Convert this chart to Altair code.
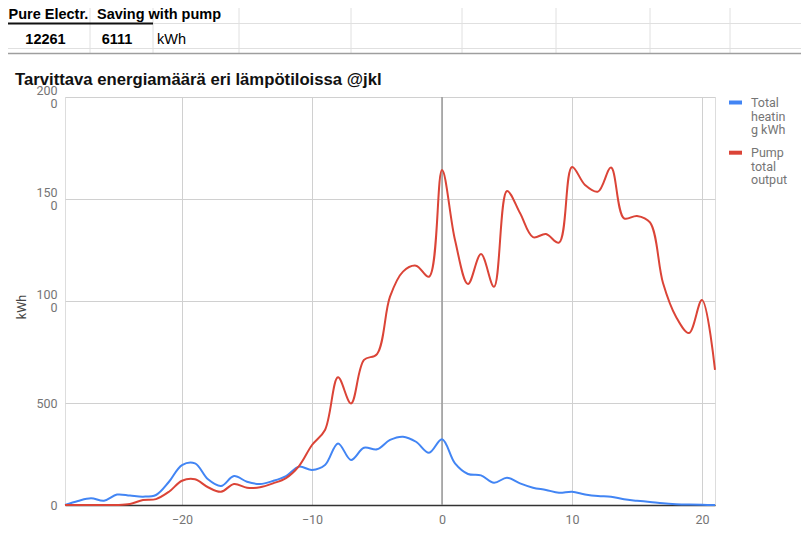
import altair as alt
import pandas as pd

# ---------------- data ----------------
temps = list(range(-29, 22))
series_names = ["Total heating kWh", "Pump total output"]
series_colors = ["#4285F4", "#DB4437"]

heating = [0, 20, 33, 21, 51, 46, 41, 49, 114, 196,
           204, 126, 93, 142, 114, 103, 118, 142, 188, 172,
           196, 302, 221, 281, 273, 319, 335, 310, 256, 322,
           204, 152, 145, 109, 134, 106, 85, 74, 60, 65,
           52, 44, 41, 28, 21, 15, 8, 4, 2, 1, 0]

pump = [0, 0, 0, 0, 0, 5, 24, 29, 65, 119,
        126, 87, 65, 103, 85, 87, 106, 132, 191, 294,
        368, 626, 498, 711, 740, 1021, 1144, 1173, 1119, 1642,
        1299, 1083, 1230, 1070, 1539, 1431, 1313, 1328, 1286, 1657,
        1569, 1536, 1654, 1405, 1417, 1385, 1088, 923, 843, 1005, 662]

x_ticks = [-20, -10, 0, 10, 20]
y_ticks = [0, 500, 1000, 1500, 2000]

table_headers = ["Pure Electr.", "Saving with pump"]
table_values = ["12261", "6111", "kWh"]
chart_title = "Tarvittava energiamäärä eri lämpötiloissa @jkl"
y_title = "kWh"
legend_lines = [["Total", "heatin", "g kWh"], ["Pump", "total", "output"]]

df = pd.DataFrame({
    "T": temps + temps,
    "kWh": heating + pump,
    "series": [series_names[0]] * len(temps) + [series_names[1]] * len(temps),
})
zero_df = pd.DataFrame({"T": [0]})

# ---------------- scales ----------------
x_scale = alt.Scale(domain=[-29, 21], nice=False, zero=False)
y_scale = alt.Scale(domain=[0, 2000], nice=False)

W, H = 650, 408
GRAY = "#757575"

lines = alt.Chart(df).mark_line(interpolate="catmull-rom", strokeWidth=2).encode(
    x=alt.X("T:Q", scale=x_scale,
            axis=alt.Axis(values=x_ticks, grid=True, gridColor="#d0d0d0", ticks=False,
                          domain=True, domainColor="#333333", domainWidth=1.5,
                          labelColor=GRAY, labelFont="Roboto", labelFontSize=12.5,
                          labelPadding=8, title=None)),
    y=alt.Y("kWh:Q", scale=y_scale,
            axis=alt.Axis(values=y_ticks, format="d",
                          labelExpr="datum.value >= 1000 ? [substring(datum.label, 0, 3), substring(datum.label, 3)] : datum.label",
                          labelLineHeight=13,
                          labelOffset={"condition": {"test": "datum.value >= 1000", "value": -7}, "value": 0},
                          grid=True, gridColor="#d0d0d0", ticks=False, domain=False,
                          labelColor=GRAY, labelFont="Roboto", labelFontSize=12.5,
                          labelPadding=8, title=None)),
    color=alt.Color("series:N", scale=alt.Scale(domain=series_names, range=series_colors),
                    legend=None),
    order=alt.Order("T:Q"),
)

zero_rule = alt.Chart(zero_df).mark_rule(color="#9a9a9a", strokeWidth=1.5).encode(
    x=alt.X("T:Q", scale=x_scale)
)

layers = [zero_rule, lines]

def px(v):
    return alt.value(v - 65)

def py(v):
    return alt.value(v - 97)

# spreadsheet grid behind the chart
grid_color = "#e0e0e0"
for gx in [90, 153, 239, 351, 462, 556, 650, 730, 804]:
    layers.append(alt.Chart(zero_df).mark_rule(color=grid_color, strokeWidth=1).encode(
        x=px(gx), y=py(0), y2=py(53)))
layers.append(alt.Chart(zero_df).mark_rule(color=grid_color, strokeWidth=1).encode(
    x=px(153), x2=px(810), y=py(23.5)))
layers.append(alt.Chart(zero_df).mark_rule(color=grid_color, strokeWidth=1).encode(
    x=px(0), x2=px(810), y=py(48.5)))
layers.append(alt.Chart(zero_df).mark_rule(color="#111111", strokeWidth=2).encode(
    x=px(0), x2=px(153), y=py(23.5)))
# chart box top border
layers.append(alt.Chart(zero_df).mark_rule(color="#9e9e9e", strokeWidth=1.5).encode(
    x=px(0), x2=px(810), y=py(53.5)))

# table texts
def txt(text, x, y, align="left", weight="bold", size=14.5, font="Liberation Sans", color="#000000"):
    return alt.Chart(zero_df).mark_text(
        align=align, baseline="alphabetic", font=font, fontSize=size,
        fontWeight=weight, color=color
    ).encode(x=px(x), y=py(y), text=alt.value(text))

layers.append(txt(table_headers[0], 8.5, 19))
layers.append(txt(table_headers[1], 97, 19))
layers.append(txt(table_values[0], 45.5, 43.5, align="center"))
layers.append(txt(table_values[1], 117, 43.5, align="center"))
layers.append(txt(table_values[2], 157, 43.5, weight="normal"))

# chart title
layers.append(txt(chart_title, 15, 84.5, size=16.7, color="#111111"))

# y-axis title
layers.append(alt.Chart(zero_df).mark_text(
    align="center", baseline="middle", angle=270, font="Roboto", fontSize=12.5, color="#444444"
).encode(x=px(22), y=py(307), text=alt.value(y_title)))

# legend
for i, (lbl, col) in enumerate(zip(legend_lines, series_colors)):
    cy = [102.5, 152.7][i]
    layers.append(alt.Chart(zero_df).mark_rule(color=col, strokeWidth=4).encode(
        x=px(729), x2=px(742), y=py(cy)))
    layers.append(alt.Chart(zero_df).mark_text(
        align="left", baseline="alphabetic", font="Roboto", fontSize=12.5,
        color=GRAY, lineHeight=13.5
    ).encode(x=px(751), y=py(cy + 4.5), text=alt.value(lbl)))

chart = alt.layer(*layers).properties(
    width=W, height=H,
    autosize=alt.AutoSizeParams(type="none"),
    padding={"left": 57, "top": 89, "right": 86, "bottom": 23},
).configure_view(stroke=None).configure(background="white")

chart.save("out.html", embed_options={"renderer": "svg", "actions": False})
